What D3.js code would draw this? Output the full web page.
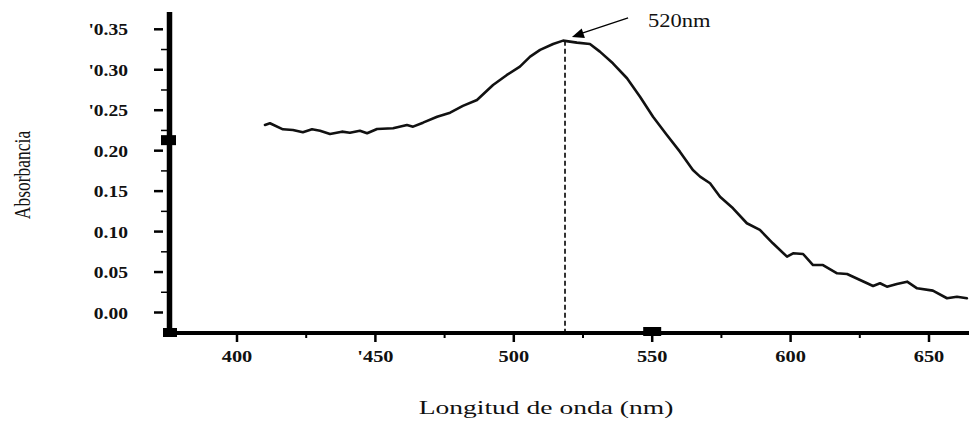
<!DOCTYPE html>
<html>
<head>
<meta charset="utf-8">
<script src="https://cdn.jsdelivr.net/npm/d3@7"></script>
<style>
  html, body { margin: 0; padding: 0; background: #fff; }
  svg { display: block; }
</style>
</head>
<body>
<svg id="chart" width="969" height="426"></svg>
<script>
// ---- data ----
const wavelength = [410.1, 411.9, 416.6, 420.2, 423.8, 427.1, 430.0, 433.6, 437.9, 440.8, 444.4, 447.0,
  450.6, 456.4, 461.4, 463.6, 467.2, 472.3, 477.0, 481.6, 486.7, 492.5, 497.5, 502.2, 505.9, 509.5,
  514.2, 517.8, 522.8, 527.5, 531.1, 535.8, 540.9, 545.6, 550.3, 555.3, 560.0, 564.7, 567.3, 570.9,
  574.5, 579.2, 584.2, 588.9, 593.6, 598.7, 600.9, 604.5, 608.1, 611.7, 616.8, 620.4, 625.1, 629.8,
  632.3, 634.8, 638.4, 642.1, 645.7, 651.4, 656.5, 660.1, 663.7];
const absorbance = [0.2318, 0.2339, 0.2264, 0.2256, 0.2227, 0.2264, 0.2247, 0.2206, 0.2235, 0.2222, 0.2247, 0.2215,
  0.2268, 0.2277, 0.2318, 0.2297, 0.2346, 0.2420, 0.2470, 0.2553, 0.2627, 0.2812, 0.2936, 0.3038, 0.3162, 0.3245,
  0.3319, 0.3360, 0.3335, 0.3319, 0.3224, 0.3080, 0.2895, 0.2667, 0.2420, 0.2194, 0.1988, 0.1761, 0.1679, 0.1597,
  0.1431, 0.1288, 0.1103, 0.1020, 0.0855, 0.0690, 0.0732, 0.0723, 0.0587, 0.0587, 0.0485, 0.0476, 0.0402, 0.0328,
  0.0361, 0.0319, 0.0352, 0.0381, 0.0299, 0.0270, 0.0176, 0.0195, 0.0176];
const xTicks = [400, 450, 500, 550, 600, 650];
const xTickLabels = ["400", "'450", "500", "550", "600", "650"];
const xMinorTicks = [425, 475, 525, 575, 625];
const yTicks = [0.00, 0.05, 0.10, 0.15, 0.20, 0.25, 0.30, 0.35];
const yTickLabels = ["0.00", "0.05", "0.10", "0.15", "0.20", "'0.25", "'0.30", "'0.35"];
const yMinorTicks = [0.025, 0.075, 0.125, 0.175, 0.225, 0.275, 0.325];
const peakWavelength = 518.5;
const peakAbsorbance = 0.336;
const peakLabel = "520nm";
const xTitle = "Longitud de onda (nm)";
const yTitle = "Absorbancia";

// ---- scales ----
const x = d3.scaleLinear().domain([400, 650]).range([237, 929]);
const y = d3.scaleLinear().domain([0, 0.35]).range([312.5, 29.3]);

const svg = d3.select("#chart");
svg.append("rect").attr("width", 969).attr("height", 426).attr("fill", "#fff");

const serif = "'Liberation Serif', 'Times New Roman', serif";

// ---- axes lines ----
const axisY = 333;
const axisXpos = 169.5;
svg.append("line").attr("x1", 167).attr("x2", 969).attr("y1", axisY).attr("y2", axisY)
  .attr("stroke", "#000").attr("stroke-width", 4);
svg.append("line").attr("x1", axisXpos).attr("x2", axisXpos).attr("y1", 12).attr("y2", 336)
  .attr("stroke", "#000").attr("stroke-width", 5.5);

// axis blobs
svg.append("rect").attr("x", 163).attr("y", axisY - 5).attr("width", 14).attr("height", 9).attr("fill", "#000");
svg.append("rect").attr("x", 161).attr("y", y(0.213) - 5).attr("width", 15).attr("height", 10).attr("fill", "#000");
svg.append("rect").attr("x", x(550) - 9).attr("y", axisY - 6).attr("width", 18).attr("height", 9).attr("fill", "#000");

// ---- y ticks ----
const yt = svg.append("g");
yt.selectAll("line.maj").data(yTicks).join("line").attr("class", "maj")
  .attr("x1", 154).attr("x2", 163).attr("y1", d => y(d)).attr("y2", d => y(d))
  .attr("stroke", "#000").attr("stroke-width", 2.5);
yt.selectAll("line.min").data(yMinorTicks).join("line").attr("class", "min")
  .attr("x1", 161).attr("x2", 167).attr("y1", d => y(d)).attr("y2", d => y(d))
  .attr("stroke", "#000").attr("stroke-width", 1.5);
yt.selectAll("text").data(yTicks).join("text")
  .attr("transform", d => `translate(128,${y(d) + 6}) scale(1.15,1)`)
  .attr("text-anchor", "end")
  .attr("font-family", serif).attr("font-weight", "bold").attr("font-size", 17)
  .attr("fill", "#111")
  .text((d, i) => yTickLabels[i]);

// ---- x ticks ----
const xt = svg.append("g");
xt.selectAll("line.maj").data(xTicks).join("line").attr("class", "maj")
  .attr("x1", d => x(d)).attr("x2", d => x(d)).attr("y1", axisY).attr("y2", axisY + 9)
  .attr("stroke", "#000").attr("stroke-width", 2.5);
xt.selectAll("line.min").data(xMinorTicks).join("line").attr("class", "min")
  .attr("x1", d => x(d)).attr("x2", d => x(d)).attr("y1", axisY).attr("y2", axisY + 5)
  .attr("stroke", "#000").attr("stroke-width", 2);
xt.selectAll("text").data(xTicks).join("text")
  .attr("transform", d => `translate(${x(d)},362) scale(1.2,1)`)
  .attr("text-anchor", "middle")
  .attr("font-family", serif).attr("font-weight", "bold").attr("font-size", 17)
  .attr("fill", "#111")
  .text((d, i) => xTickLabels[i]);

// ---- dashed peak line ----
svg.append("line")
  .attr("x1", x(peakWavelength)).attr("x2", x(peakWavelength))
  .attr("y1", y(peakAbsorbance)).attr("y2", axisY - 2)
  .attr("stroke", "#000").attr("stroke-width", 1.6)
  .attr("stroke-dasharray", "5,3");

// ---- curve ----
const pts = wavelength.map((w, i) => [w, absorbance[i]]);
svg.append("path").datum(pts)
  .attr("fill", "none").attr("stroke", "#111").attr("stroke-width", 2.6)
  .attr("stroke-linejoin", "round").attr("stroke-linecap", "round")
  .attr("d", d3.line().x(d => x(d[0])).y(d => y(d[1])));

// ---- annotation arrow ----
const tip = [x(521), y(0.3405)];
const tail = [x(541.3), y(0.364)];
svg.append("line").attr("x1", tail[0]).attr("y1", tail[1]).attr("x2", tip[0] + 8).attr("y2", tip[1] - 3)
  .attr("stroke", "#000").attr("stroke-width", 1.3);
const ang = Math.atan2(tip[1] - tail[1], tip[0] - tail[0]);
const L = 12, W = 5;
const bx = tip[0] - L * Math.cos(ang), by = tip[1] - L * Math.sin(ang);
svg.append("path")
  .attr("d", `M${tip[0]},${tip[1]} L${bx + W * Math.sin(ang)},${by - W * Math.cos(ang)} L${bx - W * Math.sin(ang)},${by + W * Math.cos(ang)} Z`)
  .attr("fill", "#000");
svg.append("text")
  .attr("transform", `translate(${x(548.5)},${y(0.353)}) scale(1.25,1)`)
  .attr("font-family", serif).attr("font-size", 18).attr("fill", "#111")
  .text(peakLabel);

// ---- titles ----
svg.append("text")
  .attr("transform", "translate(546,414) scale(1.45,1)")
  .attr("text-anchor", "middle")
  .attr("font-family", serif).attr("font-size", 19).attr("fill", "#111")
  .text(xTitle);
svg.append("text")
  .attr("transform", "translate(30,175) rotate(-90) scale(1,1.3)")
  .attr("text-anchor", "middle")
  .attr("font-family", serif).attr("font-size", 17.5).attr("fill", "#111")
  .text(yTitle);
</script>
</body>
</html>
